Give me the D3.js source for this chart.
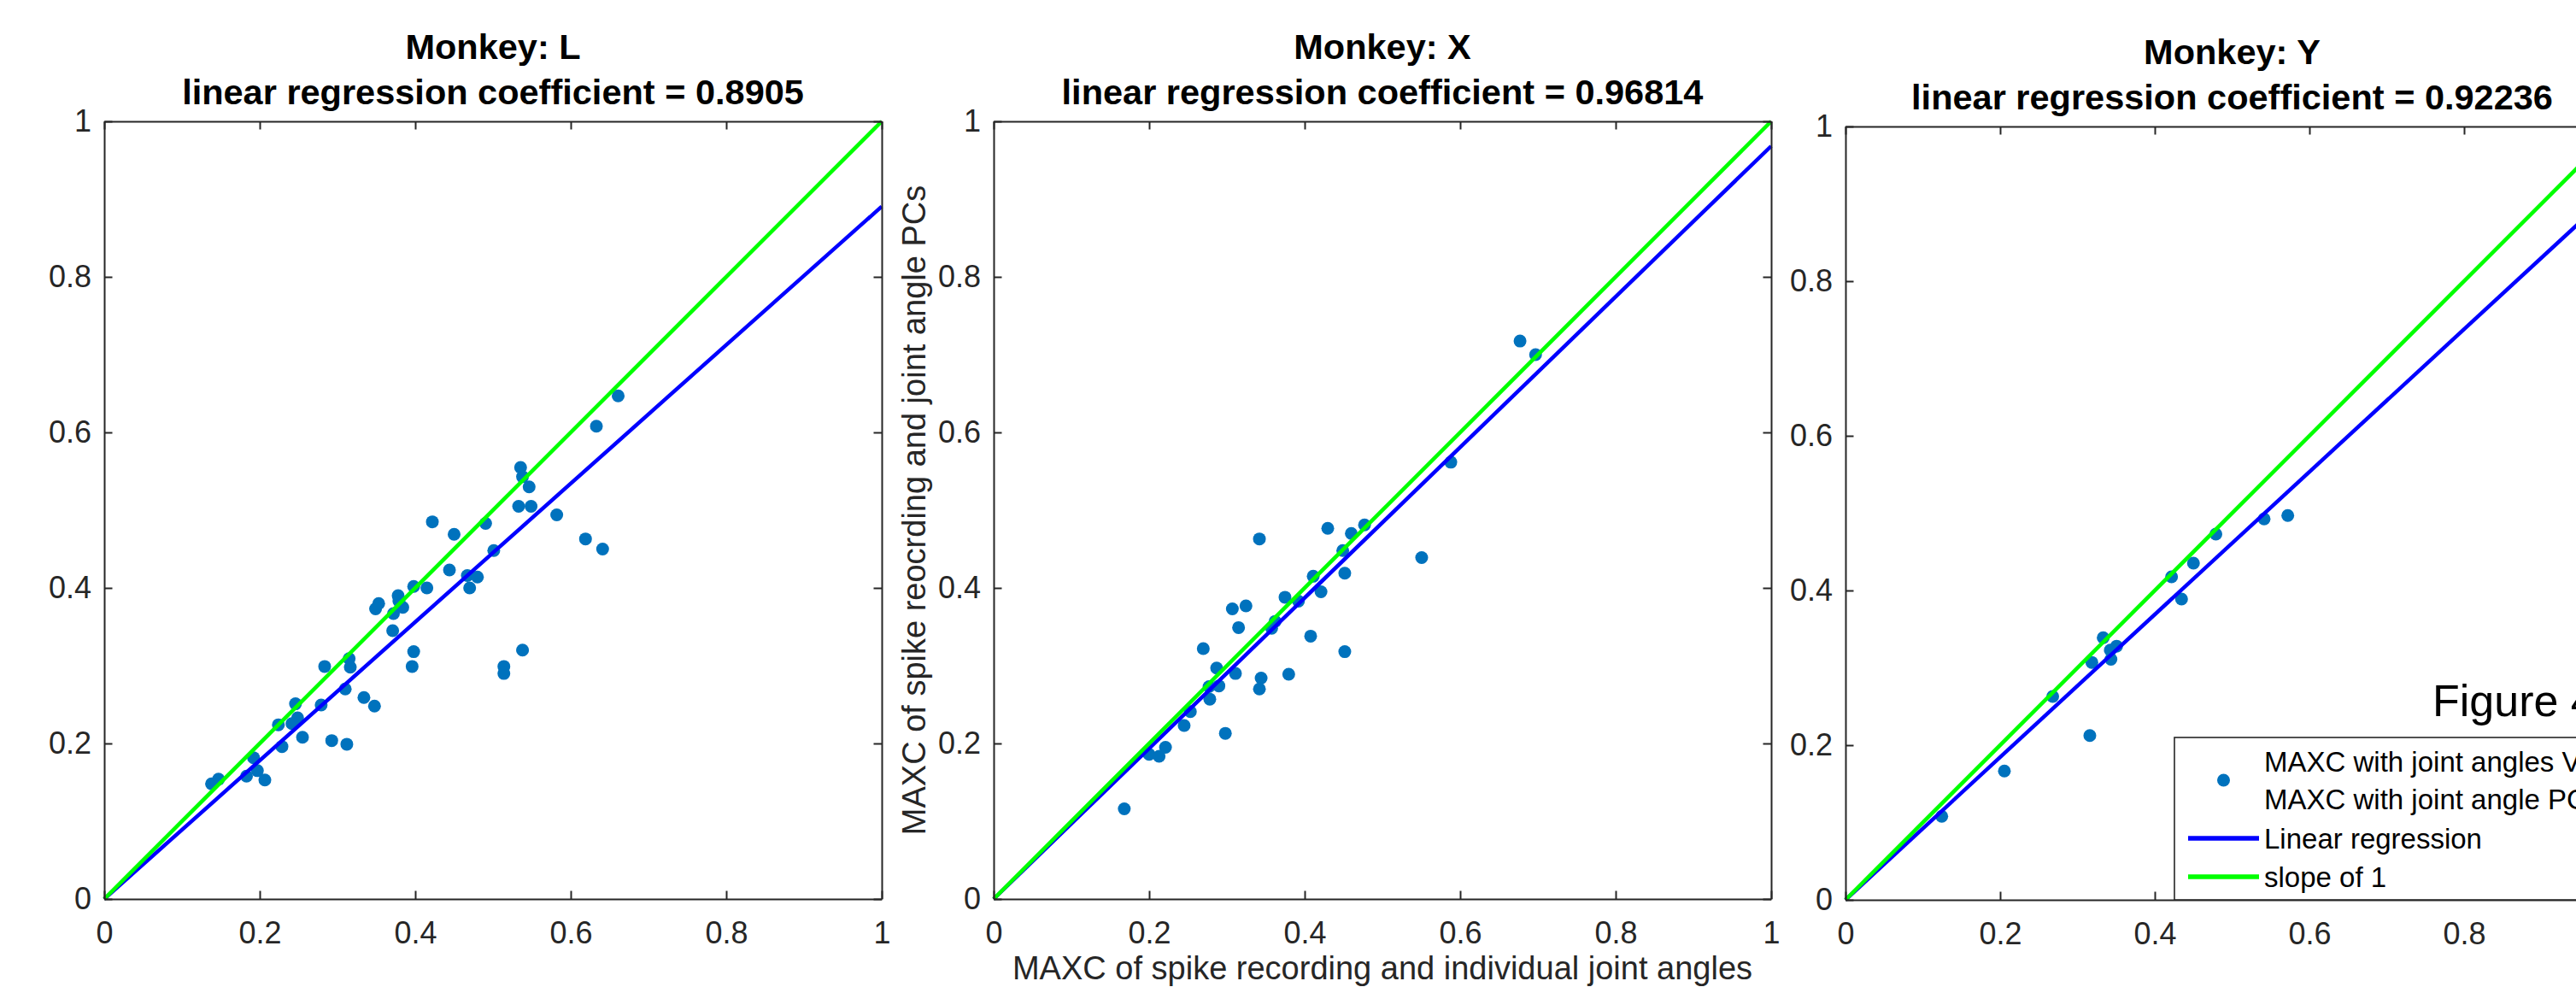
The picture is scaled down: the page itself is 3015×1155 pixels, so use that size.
<!DOCTYPE html>
<html>
<head>
<meta charset="utf-8">
<script src="https://cdn.jsdelivr.net/npm/d3@7"></script>
<style>
  body { margin: 0; background: #fff; overflow: hidden; }
  svg { display: block; font-family: "Liberation Sans", Arial, Helvetica, sans-serif; }
</style>
</head>
<body>
<div id="plot-box"></div>
<script>
// data
const monkeys = ["L", "X", "Y"];
const coefs = [0.8905, 0.96814, 0.92236];

const monkeyL_x = [0.661, 0.633, 0.5355, 0.538, 0.5465, 0.533, 0.549, 0.582, 0.422, 0.4905, 0.450, 0.619, 0.641, 0.501,
  0.444, 0.467, 0.480, 0.470, 0.415, 0.398, 0.378, 0.379, 0.384, 0.353, 0.349, 0.372, 0.371, 0.398, 0.396, 0.538,
  0.514, 0.514, 0.2835, 0.315, 0.3165, 0.310, 0.334, 0.3476, 0.246, 0.279, 0.224, 0.2487, 0.2414, 0.255, 0.2926,
  0.312, 0.2286, 0.192, 0.197, 0.183, 0.2066, 0.147, 0.138];
const monkeyL_y = [0.647, 0.608, 0.555, 0.543, 0.530, 0.505, 0.505, 0.494, 0.485, 0.483, 0.469, 0.463, 0.450, 0.448,
  0.423, 0.416, 0.414, 0.400, 0.400, 0.402, 0.390, 0.383, 0.375, 0.380, 0.373, 0.367, 0.345, 0.318, 0.299, 0.320,
  0.299, 0.290, 0.299, 0.309, 0.298, 0.270, 0.259, 0.248, 0.251, 0.2495, 0.224, 0.233, 0.2256, 0.208, 0.2037,
  0.199, 0.196, 0.1817, 0.165, 0.158, 0.153, 0.154, 0.148];

const monkeyX_x = [0.677, 0.697, 0.588, 0.3418, 0.4297, 0.460, 0.477, 0.449, 0.5505, 0.411, 0.4516, 0.421, 0.3747,
  0.392, 0.307, 0.3245, 0.315, 0.362, 0.3575, 0.4077, 0.4516, 0.2696, 0.2868, 0.311, 0.344, 0.3418, 0.3795, 0.277,
  0.2897, 0.278, 0.253, 0.245, 0.298, 0.221, 0.200, 0.2128, 0.168];
const monkeyX_y = [0.7175, 0.700, 0.5617, 0.463, 0.4766, 0.470, 0.481, 0.448, 0.439, 0.415, 0.419, 0.395, 0.388,
  0.383, 0.373, 0.377, 0.349, 0.357, 0.348, 0.338, 0.318, 0.322, 0.297, 0.290, 0.284, 0.270, 0.289, 0.273,
  0.274, 0.257, 0.241, 0.223, 0.213, 0.195, 0.186, 0.1835, 0.116];

const monkeyY_x = [0.572, 0.5414, 0.479, 0.450, 0.4217, 0.4346, 0.3333, 0.3506, 0.3425, 0.3433, 0.3186, 0.268,
  0.316, 0.2055, 0.1245];
const monkeyY_y = [0.497, 0.4925, 0.473, 0.4354, 0.4177, 0.389, 0.339, 0.328, 0.323, 0.311, 0.307, 0.263,
  0.2125, 0.1665, 0.108];

const tickValues = [0, 0.2, 0.4, 0.6, 0.8, 1];
const tickLabels = ["0", "0.2", "0.4", "0.6", "0.8", "1"];

const xLabel = "MAXC of spike recording and individual joint angles";
const yLabel = "MAXC of spike reocrding and joint angle PCs";
const legendLabels = [["MAXC with joint angles VS", "MAXC with joint angle PCs"], ["Linear regression"], ["slope of 1"]];
const figureNote = "Figure 4";

const allX = [monkeyL_x, monkeyX_x, monkeyY_x];
const allY = [monkeyL_y, monkeyX_y, monkeyY_y];

// layout
const W = 3015, H = 1155;
const panels = [
  {left: 122, top: 142, size: 910},
  {left: 1163, top: 142, size: 910},
  {left: 2160, top: 148, size: 905}
];
const axisColor = "#262626";
const dotColor = "#0072BD";
const regColor = "#0000FF";
const oneColor = "#00FF00";

const svg = d3.select("#plot-box")
  .append("svg")
  .attr("width", W)
  .attr("height", H);

const tickFmt = d => tickLabels[tickValues.indexOf(d)];

panels.forEach((p, i) => {
  const x = d3.scaleLinear().domain([0, 1]).range([0, p.size]);
  const y = d3.scaleLinear().domain([0, 1]).range([p.size, 0]);
  const g = svg.append("g").attr("transform", `translate(${p.left},${p.top})`);

  const pts = allX[i].map((v, k) => ({x: v, y: allY[i][k]}));

  // scatter
  g.append("g")
    .selectAll("circle")
    .data(pts)
    .enter().append("circle")
    .attr("cx", d => x(d.x))
    .attr("cy", d => y(d.y))
    .attr("r", 7.5)
    .style("fill", dotColor);

  const line = d3.line().x(d => x(d[0])).y(d => y(d[1]));
  g.append("path")
    .datum([[0, 0], [1, coefs[i]]])
    .attr("d", line)
    .attr("fill", "none")
    .attr("stroke", regColor)
    .attr("stroke-width", 4.5);
  g.append("path")
    .datum([[0, 0], [1, 1]])
    .attr("d", line)
    .attr("fill", "none")
    .attr("stroke", oneColor)
    .attr("stroke-width", 4.5);

  // axes, box with inward ticks
  const tk = -9.5;
  const bottom = d3.axisBottom(x).tickValues(tickValues).tickFormat(tickFmt)
    .tickSizeInner(tk).tickSizeOuter(0).tickPadding(26);
  const left = d3.axisLeft(y).tickValues(tickValues).tickFormat(tickFmt)
    .tickSizeInner(tk).tickSizeOuter(0).tickPadding(15);
  const top = d3.axisTop(x).tickValues(tickValues).tickFormat("")
    .tickSizeInner(tk).tickSizeOuter(0);
  const right = d3.axisRight(y).tickValues(tickValues).tickFormat("")
    .tickSizeInner(tk).tickSizeOuter(0);

  const axes = [
    g.append("g").attr("transform", `translate(0,${p.size})`).call(bottom),
    g.append("g").call(left),
    g.append("g").call(top),
    g.append("g").attr("transform", `translate(${p.size},0)`).call(right)
  ];
  axes.forEach(a => {
    a.selectAll("path, line").attr("stroke", axisColor).attr("stroke-width", 2);
    a.selectAll("text")
      .attr("fill", axisColor)
      .style("font-family", "'Liberation Sans', Arial, sans-serif")
      .style("font-size", "36px");
  });

  // title
  const title = g.append("text")
    .attr("x", p.size / 2)
    .attr("text-anchor", "middle")
    .style("font-weight", "bold")
    .style("font-size", "41.5px")
    .attr("fill", "#000");
  title.append("tspan").attr("x", p.size / 2).attr("y", -73).text(`Monkey: ${monkeys[i]}`);
  title.append("tspan").attr("x", p.size / 2).attr("y", -20)
    .text(`linear regression coefficient = ${coefs[i]}`);

  // axis labels only on the middle panel
  if (i === 1) {
    g.append("text")
      .attr("x", p.size / 2)
      .attr("y", p.size + 94)
      .attr("text-anchor", "middle")
      .attr("fill", axisColor)
      .style("font-size", "38px")
      .text(xLabel);
    g.append("text")
      .attr("transform", `translate(${-80},${p.size / 2}) rotate(-90)`)
      .attr("text-anchor", "middle")
      .attr("fill", axisColor)
      .style("font-size", "38px")
      .text(yLabel);
  }
});

// figure note
svg.append("text")
  .attr("x", 2847)
  .attr("y", 838)
  .style("font-size", "52px")
  .attr("fill", "#000")
  .text(figureNote);

// legend
const leg = svg.append("g").attr("transform", "translate(2545,863)");
leg.append("rect")
  .attr("x", 0).attr("y", 0)
  .attr("width", 600).attr("height", 190)
  .attr("fill", "#fff")
  .attr("stroke", axisColor)
  .attr("stroke-width", 1.6);

const rowY = [50, 118, 163];
const symX = [16, 99];
const textX = 105;
legendLabels.forEach((lab, r) => {
  if (r === 0) {
    leg.append("circle").attr("cx", (symX[0] + symX[1]) / 2).attr("cy", rowY[r])
      .attr("r", 7.5).style("fill", dotColor);
  } else {
    leg.append("line")
      .attr("x1", symX[0]).attr("x2", symX[1])
      .attr("y1", rowY[r]).attr("y2", rowY[r])
      .attr("stroke", r === 1 ? regColor : oneColor)
      .attr("stroke-width", 5.5);
  }
  const t = leg.append("text").style("font-size", "33px").attr("fill", "#000");
  const n = lab.length;
  lab.forEach((s, k) => {
    t.append("tspan")
      .attr("x", textX)
      .attr("y", rowY[r] + 12 + (k - (n - 1) / 2) * 44)
      .text(s);
  });
});
</script>
</body>
</html>
